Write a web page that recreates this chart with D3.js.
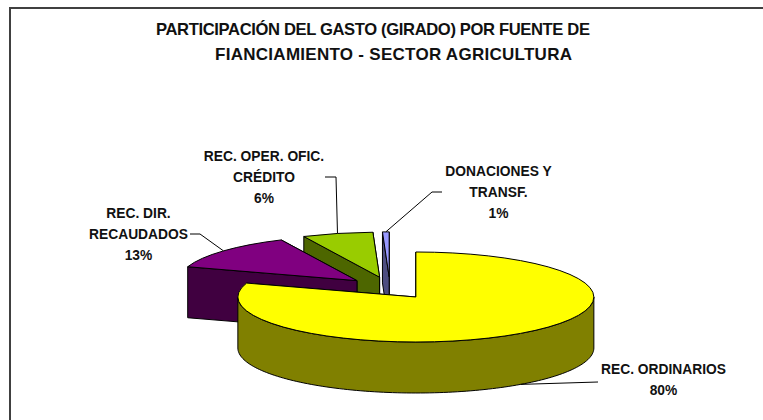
<!DOCTYPE html>
<html><head><meta charset="utf-8">
<script src="https://cdn.jsdelivr.net/npm/d3@7"></script>
<style>html,body{margin:0;padding:0;background:#fff}svg{display:block}text{font-family:"Liberation Sans",Arial,sans-serif;font-weight:bold;fill:#111}</style>
</head><body><svg id="c" width="763" height="420"></svg>
<script>
const titleLines = ["PARTICIPACIÓN DEL GASTO (GIRADO) POR FUENTE DE", "FIANCIAMIENTO - SECTOR AGRICULTURA"];
const titleX = [156, 215];
const titleWidth = [434, 357];
const titleY = [35, 60];
const titleSize = [16.6, 17];
const categories = ["REC. ORDINARIOS", "REC. DIR. RECAUDADOS", "REC. OPER. OFIC. CRÉDITO", "DONACIONES Y TRANSF."];
const labelLines = [["REC. ORDINARIOS"], ["REC. DIR.", "RECAUDADOS"], ["REC. OPER. OFIC.", "CRÉDITO"], ["DONACIONES Y", "TRANSF."]];
const values = [80, 13, 6.4, 0.6];
const topColors = ["#ffff00", "#800080", "#99cc00", "#9999ff"];
const sideColors = ["#808000", "#400040", "#4d6600", "#4d4d80"];
const labelX = [663.5, 138.5, 264, 498.5];
const labelY = [374, 218, 161, 176];
const elbows = [[[598, 382]], [[190, 234], [200, 234]], [[325, 177], [336, 177]], [[442, 192], [432, 192]]];

const cx = 390, cy = 288, rx = 178, ry = 45, depth = 51, explode = 44;
const svg = d3.select("#c");
svg.append("path").attr("d", d3.line()([[10, 420], [10, 8], [763, 8]])).attr("fill", "none").attr("stroke", "#404040").attr("stroke-width", 2);

const slices = d3.pie().sort(null).value(d => d)(values).map((s, i) => {
  const mid = (s.startAngle + s.endAngle) / 2;
  return {...s, i, mid, ox: cx + explode * Math.sin(mid), oy: cy - explode * (ry / rx) * Math.cos(mid)};
});
const rim = (s, a, dz = 0) => [s.ox + rx * Math.sin(a), s.oy - ry * Math.cos(a) + dz];
const line = d3.line();
const arcPts = (s, a0, a1, dz = 0) => d3.range(0, 121).map(k => rim(s, a0 + (a1 - a0) * k / 120, dz));
const arcGen = d3.arc().innerRadius(0).outerRadius(rx);
const paint = (g, pts, fill) => g.append("path").attr("d", line(pts) + "Z").attr("fill", fill).attr("stroke", "#000").attr("stroke-width", 1).attr("stroke-linejoin", "round");

// Back-to-front: the small rear slices first, the front slice last
[3, 2, 1, 0].forEach(i => {
  const s = slices[i], g = svg.append("g"), side = sideColors[i];
  [s.endAngle, s.startAngle].forEach(a => {
    const p = rim(s, a), c = [s.ox, s.oy];
    paint(g, [c, p, [p[0], p[1] + depth], [c[0], c[1] + depth]], side);
  });
  const f0 = Math.max(s.startAngle, Math.PI / 2), f1 = Math.min(s.endAngle, 1.5 * Math.PI);
  if (f1 > f0) paint(g, arcPts(s, f0, f1).concat(arcPts(s, f1, f0, depth)), side);
  g.append("path").attr("d", arcGen(s))
    .attr("transform", `translate(${s.ox},${s.oy}) scale(1,${ry / rx})`)
    .attr("fill", topColors[i]).attr("stroke", "#000").attr("stroke-width", 1)
    .attr("vector-effect", "non-scaling-stroke");
});

// Leader lines start on the rim at each slice's mid angle
slices.forEach((s, i) => {
  const front = s.mid > Math.PI / 2 && s.mid < 1.5 * Math.PI;
  const pts = [rim(s, s.mid, front ? depth : 0)].concat(elbows[i].slice().reverse());
  svg.append("path").attr("d", line(pts)).attr("fill", "none").attr("stroke", "#000").attr("stroke-width", 1);
});

titleLines.forEach((t, k) => svg.append("text").attr("x", titleX[k]).attr("y", titleY[k]).attr("textLength", titleWidth[k]).attr("lengthAdjust", "spacing").attr("font-size", titleSize[k]).text(t));
const pct = d3.format(".0f");
labelLines.forEach((lines, i) => {
  lines.concat(pct(values[i]) + "%").forEach((t, k) => svg.append("text").attr("x", labelX[i]).attr("y", labelY[i] + k * 21).attr("text-anchor", "middle").attr("font-size", 13.8).text(t));
});
</script></body></html>
